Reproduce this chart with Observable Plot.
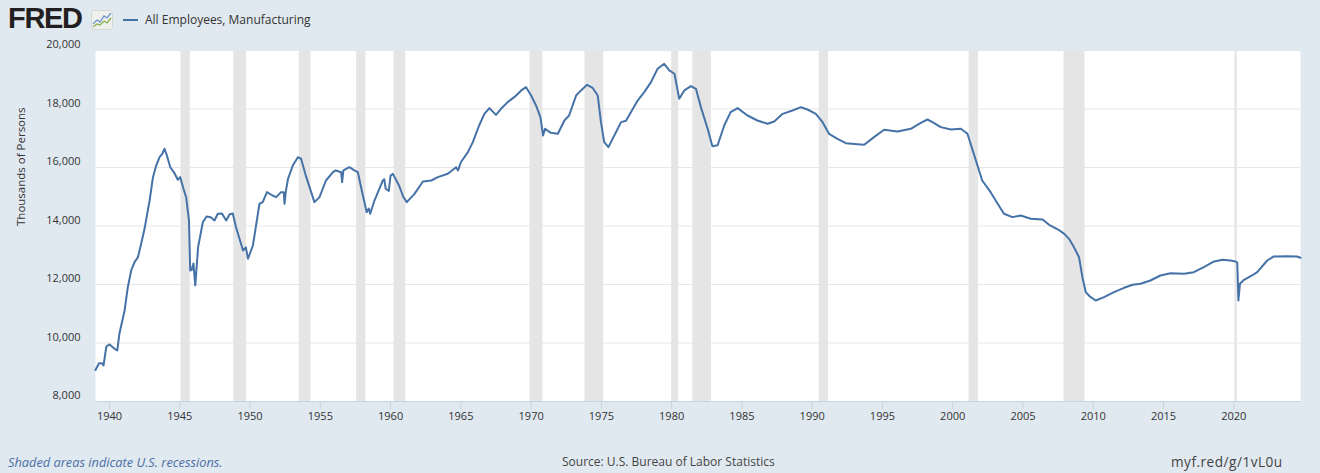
<!DOCTYPE html>
<html>
<head>
<meta charset="utf-8">
<script src="https://cdn.jsdelivr.net/npm/d3@7"></script>
<script src="https://cdn.jsdelivr.net/npm/@observablehq/plot@0.6"></script>
<style>
  html, body { margin: 0; padding: 0; background: #e1e9f0; }
  body { width: 1320px; height: 473px; position: relative; overflow: hidden; font-family: "Open Sans", sans-serif; }
  #header { position: relative; height: 36px; }
  #logo { position: absolute; left: 8px; top: 2px; font-family: "Liberation Sans", Arial, sans-serif; font-weight: bold; font-size: 29px; letter-spacing: -1.3px; color: #231f20; }
  #icon { position: absolute; left: 91px; top: 10px; }
  #legend { position: absolute; left: 123px; top: 11px; font-size: 12px; color: #333; display: flex; align-items: center; }
  #legend .sw { display: inline-block; width: 15px; height: 2px; background: #4572a7; margin-right: 7px; }
  #chart { display: block; height: 410px; }
  #footer { position: relative; height: 27px; }
  #footer div { position: absolute; top: 7px; white-space: nowrap; }
  #note { left: 8px; font-style: italic; color: #4a6fa5; font-size: 12.8px; }
  #source { left: 562px; color: #444; font-family: "Open Sans", sans-serif; font-size: 12px; letter-spacing: 0px; }
  #link { left: 1171px; top: 6px !important; color: #444; font-family: "Open Sans", sans-serif; font-size: 13.6px; letter-spacing: 0.5px; }
</style>
</head>
<body>
<div id="header">
  <div id="logo">FRED</div>
  <svg id="icon" width="22" height="20" viewBox="0 0 22 20">
    <rect x="0.5" y="0.5" width="21" height="19" rx="2" fill="#eef0ee" stroke="#d4d8d4"/>
    <polyline points="2,14 6,10 9,12 13,6 16,8 20,3" fill="none" stroke="#6e95c9" stroke-width="1.3"/>
    <polyline points="2,17 6,14 9,15 13,11 16,13 20,8" fill="none" stroke="#8bb04a" stroke-width="1.3"/>
  </svg>
  <div id="legend"><span class="sw"></span>All Employees, Manufacturing</div>
</div>
<div id="chart"></div>
<div id="footer">
  <div id="note">Shaded areas indicate U.S. recessions.</div>
  <div id="source">Source: U.S. Bureau of Labor Statistics</div>
  <div id="link">myf.red/g/1vL0u</div>
</div>
<script>
// Decimal year of each observation
const years = [
  1939.00, 1939.25, 1939.45, 1939.57, 1939.77, 1940.00, 1940.36, 1940.55, 1940.70, 1941.07,
  1941.30, 1941.54, 1941.78, 1942.02, 1942.25, 1942.49, 1942.85, 1943.09, 1943.32, 1943.56,
  1943.75, 1943.91, 1944.08, 1944.32, 1944.62, 1944.86, 1945.03, 1945.26, 1945.45, 1945.65,
  1945.74, 1945.85, 1945.97, 1946.10, 1946.30, 1946.64, 1946.90, 1947.20, 1947.47, 1947.70,
  1948.00, 1948.30, 1948.55, 1948.77, 1949.00, 1949.50, 1949.70, 1949.85, 1950.20, 1950.67,
  1950.90, 1951.20, 1951.60, 1951.86, 1952.20, 1952.40, 1952.45, 1952.55, 1952.70, 1953.04,
  1953.40, 1953.63, 1954.00, 1954.58, 1954.94, 1955.40, 1955.90, 1956.10, 1956.48, 1956.55,
  1956.64, 1957.07, 1957.42, 1957.67, 1958.00, 1958.30, 1958.45, 1958.55, 1958.85, 1959.45,
  1959.55, 1959.65, 1959.87, 1960.00, 1960.16, 1960.60, 1960.90, 1961.15, 1961.70, 1962.30,
  1962.90, 1963.36, 1964.07, 1964.66, 1964.80, 1965.00, 1965.50, 1965.85, 1966.30, 1966.67,
  1967.03, 1967.50, 1967.86, 1968.33, 1968.80, 1969.30, 1969.64, 1970.00, 1970.35, 1970.66,
  1970.85, 1970.99, 1971.40, 1971.90, 1972.37, 1972.70, 1973.20, 1973.55, 1973.98, 1974.38,
  1974.74, 1974.97, 1975.20, 1975.50, 1975.92, 1976.40, 1976.75, 1977.10, 1977.58, 1978.05,
  1978.53, 1979.00, 1979.47, 1979.83, 1980.20, 1980.54, 1980.90, 1981.37, 1981.73, 1982.08,
  1982.56, 1982.90, 1983.27, 1983.74, 1984.20, 1984.69, 1985.40, 1986.10, 1986.83, 1987.30,
  1987.90, 1988.60, 1989.20, 1989.67, 1990.26, 1990.74, 1991.20, 1991.80, 1992.40, 1993.23,
  1993.70, 1994.40, 1995.12, 1996.07, 1997.02, 1997.73, 1998.20, 1998.56, 1999.15, 1999.87,
  2000.58, 2001.05, 2001.50, 2002.10, 2002.70, 2003.20, 2003.65, 2004.25, 2004.84, 2005.55,
  2006.40, 2006.86, 2007.50, 2007.92, 2008.30, 2008.60, 2008.99, 2009.23, 2009.47, 2009.82,
  2010.18, 2010.77, 2011.48, 2012.20, 2012.80, 2013.36, 2014.07, 2014.78, 2015.50, 2016.45,
  2017.16, 2017.87, 2018.60, 2019.20, 2019.77, 2020.13, 2020.25, 2020.33, 2020.44, 2020.73,
  2021.30, 2021.67, 2022.38, 2022.85, 2023.80, 2024.50, 2024.75
];
// All Employees, Manufacturing (thousands of persons)
const employees = [
  9077, 9310, 9310, 9230, 9880, 9950, 9800, 9745, 10315, 11111,
  11908, 12479, 12763, 12934, 13392, 13904, 14872, 15670, 16069, 16353,
  16467, 16640, 16411, 16010, 15806, 15580, 15670, 15272, 14985, 14190,
  12480, 12500, 12720, 11970, 13276, 14130, 14325, 14300, 14190, 14417,
  14430, 14190, 14400, 14430, 13960, 13163, 13270, 12880, 13333, 14760,
  14815, 15157, 15043, 14986, 15157, 15150, 14760, 15200, 15614, 16069,
  16353, 16300, 15670, 14815, 14986, 15556, 15840, 15900, 15840, 15500,
  15900, 16010, 15900, 15840, 15100, 14472, 14600, 14420, 14870, 15556,
  15600, 15272, 15200, 15727, 15783, 15385, 15000, 14815, 15100, 15520,
  15556, 15670, 15784, 16010, 15900, 16180, 16525, 16866, 17436, 17835,
  18030, 17800, 18008, 18235, 18405, 18635, 18746, 18460, 18120, 17720,
  17094, 17323, 17186, 17152, 17607, 17778, 18460, 18635, 18828, 18720,
  18460, 17550, 16866, 16695, 17094, 17550, 17600, 17892, 18290, 18576,
  18918, 19375, 19546, 19318, 19204, 18350, 18635, 18780, 18690, 18064,
  17323, 16730, 16760, 17436, 17892, 18030, 17778, 17607, 17494, 17573,
  17835, 17949, 18062, 17983, 17835, 17550, 17152, 16981, 16832, 16798,
  16780, 17038, 17289, 17232, 17323, 17528, 17641, 17550, 17380, 17300,
  17323, 17152, 16468, 15556, 15157, 14760, 14417, 14303, 14360, 14246,
  14225, 14042, 13880, 13740, 13550, 13300, 12934, 12250, 11737, 11566,
  11453, 11566, 11737, 11887, 11990, 12024, 12137, 12308, 12387, 12366,
  12421, 12592, 12787, 12844, 12821, 12787, 12750, 11453, 12024, 12160,
  12308, 12421, 12821, 12958, 12968, 12958, 12913
];
// NBER recessions (decimal years)
const recessionStart = [1945.083, 1948.833, 1953.5, 1957.583, 1960.25, 1969.917, 1973.833, 1980.0, 1981.5, 1990.5, 2001.167, 2007.917, 2020.083];
const recessionEnd   = [1945.75, 1949.75, 1954.333, 1958.25, 1961.083, 1970.833, 1975.167, 1980.5, 1982.833, 1991.167, 2001.833, 2009.417, 2020.25];
const xTicks = [1940, 1945, 1950, 1955, 1960, 1965, 1970, 1975, 1980, 1985, 1990, 1995, 2000, 2005, 2010, 2015, 2020];
const yTicks = [8000, 10000, 12000, 14000, 16000, 18000, 20000];

const series = years.map((x, i) => ({x, y: employees[i]}));
const recessions = recessionStart.map((s, i) => ({start: s, end: recessionEnd[i]}));

const chart = Plot.plot({
  width: 1320,
  height: 410,
  marginLeft: 95,
  marginRight: 20,
  marginTop: 14,
  marginBottom: 45,
  style: {background: "transparent", fontFamily: "'Open Sans', sans-serif", fontSize: "11px", overflow: "visible"},
  x: {domain: [1939.0, 2024.75]},
  y: {domain: [8000, 20000]},
  marks: [
    Plot.frame({fill: "white", stroke: null}),
    Plot.gridY(yTicks, {stroke: "#e6e6e6", strokeOpacity: 1}),
    Plot.rect(recessions, {x1: "start", x2: "end", fill: "#e5e5e5"}),
    Plot.line(series, {x: "x", y: "y", stroke: "#4572a7", strokeWidth: 2, strokeLinejoin: "round"}),
    Plot.ruleY([8000], {stroke: "#c5d3e3"}),
    Plot.axisX(xTicks, {tickSize: 8, tickPadding: 3, stroke: "#c5d3e3", fill: "#333", tickFormat: d => String(d), label: null, fontSize: 11}),
    Plot.axisY(yTicks, {tickSize: 0, tickPadding: 15, fill: "#333", tickFormat: d3.format(","), dy: -6, label: null, fontSize: 11}),
    Plot.text(["Thousands of Persons"], {frameAnchor: "left", dx: -74, rotate: -90, fill: "#333", fontSize: 11.5})
  ]
});
document.getElementById("chart").appendChild(chart);
</script>
</body>
</html>
